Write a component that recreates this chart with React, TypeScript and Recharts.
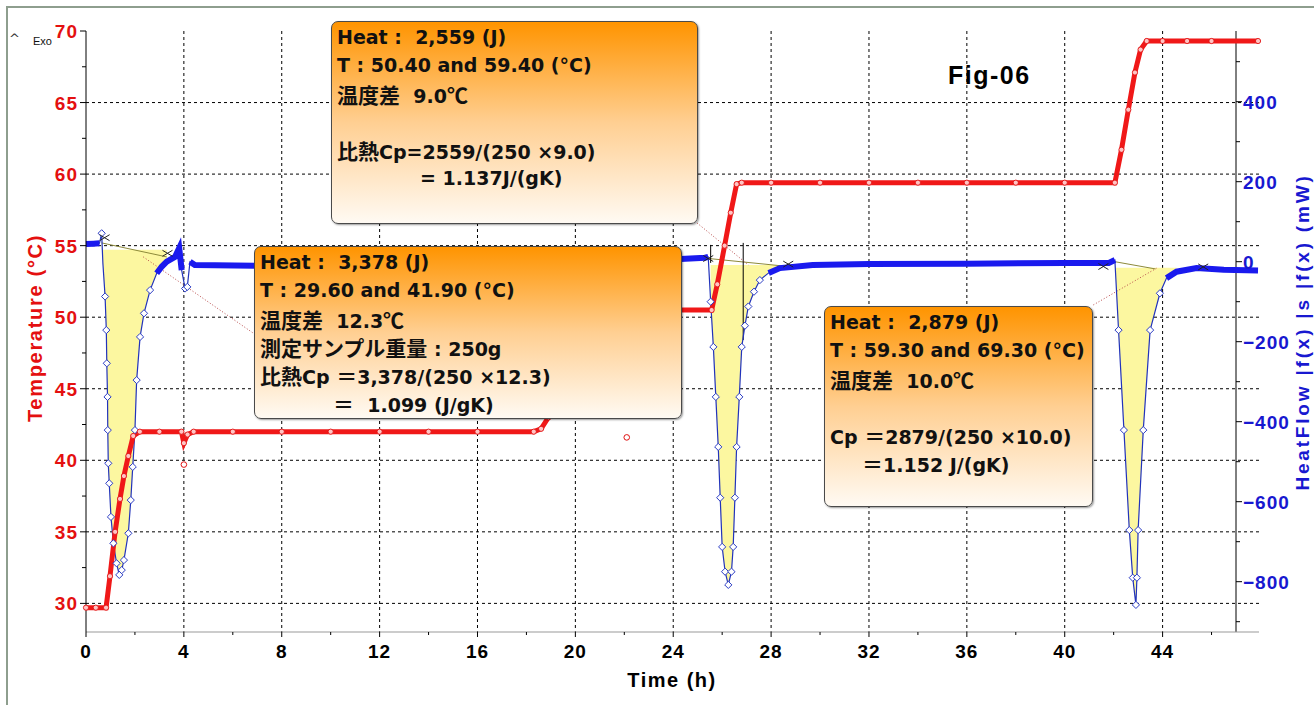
import React from "react";
import {
  ComposedChart,
  Line,
  Area,
  Scatter,
  XAxis,
  YAxis,
  CartesianGrid,
  ReferenceLine,
} from "recharts";

// sample temperature, °C (left axis)
const tempHours = [
  0, 0.4, 0.82, 0.98, 1.19, 1.39, 1.55, 1.73, 1.93, 2.2, 3.0, 3.9, 4.0, 4.15, 4.4,
  6, 8, 10, 12, 14, 16, 18.3, 18.6, 18.9, 19.2, 19.5, 19.8, 20.1, 22, 24, 25.57,
  25.8, 26.1, 26.35, 26.59, 26.8, 28, 30, 32, 34, 36, 38, 40, 42.05, 42.32, 42.6,
  42.87, 43.1, 43.35, 44, 45, 46, 47.9,
];
const tempC = [
  29.7, 29.7, 29.7, 31.9, 35.0, 37.3, 38.9, 40.3, 41.7, 42.0, 42.0, 42.0, 41.2, 41.8, 42.0,
  42.0, 42.0, 42.0, 42.0, 42.0, 42.0, 42.0, 42.2, 43.0, 45.5, 48.3, 50.2, 50.5, 50.5, 50.5, 50.5,
  52.3, 55.0, 57.3, 59.3, 59.4, 59.4, 59.4, 59.4, 59.4, 59.4, 59.4, 59.4, 59.4, 61.7, 64.5,
  67.1, 68.7, 69.3, 69.3, 69.3, 69.3, 69.3,
];

// single stray temperature readings
const strayHours = [4.0, 22.1];
const strayC = [39.7, 41.6];

// heat flow, mW (right axis)
const flowHours = [
  0, 0.3, 0.55, 0.64, 0.69, 0.78, 0.83, 0.85, 0.88, 0.89, 0.91, 0.95, 1.02, 1.12, 1.25,
  1.36, 1.46, 1.55, 1.73, 1.83, 1.91, 2.0, 2.07, 2.21, 2.37, 2.62, 2.89, 3.1, 3.3, 3.64,
  3.81, 3.91, 4.05, 4.14, 4.25, 4.45, 6.9, 15, 24.3, 25.3, 25.43, 25.53, 25.64, 25.74,
  25.84, 25.92, 26.0, 26.12, 26.25, 26.38, 26.45, 26.52, 26.59, 26.7, 26.8, 26.93, 27.07,
  27.3, 27.54, 27.9, 28.36, 29.7, 32, 36, 40, 41.8, 42.05, 42.2, 42.42, 42.64, 42.78,
  42.91, 42.95, 43.0, 43.21, 43.49, 43.89, 44.16, 44.57, 45.39, 46.5, 47.9,
];
const flowMW = [
  44, 45, 46, 71, -4, -87, -171, -254, -338, -421, -504, -554, -638, -704, -754,
  -783, -771, -746, -679, -596, -513, -421, -296, -188, -129, -71, -29, -12, 0, 12,
  34, -21, -67, -63, 0, -8, -10, -3, 7, 10, 12, -100, -213, -338,
  -463, -590, -713, -775, -808, -775, -713, -590, -463, -338, -213, -160, -112,
  -75, -46, -28, -16, -8, -6, -5, -3, -3, 4, -171, -421, -671, -790,
  -858, -790, -671, -421, -171, -79, -41, -25, -16, -20, -22,
];

// the three integrated peaks
const peakFrom = [0.64, 25.53, 42.05];
const peakTo = [3.3, 28.36, 44.57];
const peakLevel = [30, -8, -15];

// straight baselines drawn under each peak
const baseStartHours = [0.64, 25.45, 42.05];
const baseStartMW = [47, 8, 0];
const baseEndHours = [3.3, 28.7, 43.7];
const baseEndMW = [12, -12, -18];

// x marks at the integration limits
const limitHours = [0.76, 3.33, 25.43, 28.7, 41.58, 45.66];
const limitMW = [60, 21, 8, -6, -12, -13];

// two cursor lines on the middle peak
const cursorHours = [25.53, 26.86];
const cursorTopMW = [42, 47];
const cursorBottomMW = [-3, -196];

// dotted leaders from the notes to their peaks
const leaderFromHours = [24.69, 2.34, 41.17];
const leaderFromMW = [111, 12, -108];
const leaderToHours = [27.07, 7.2, 43.76];
const leaderToMW = [-8, -194, -16];

const timeTicks = [0, 2, 4, 6, 8, 10, 12, 14, 16, 18, 20, 22, 24, 26, 28, 30, 32, 34, 36, 38, 40, 42, 44, 46];
const tempTicks = [30, 32.5, 35, 37.5, 40, 42.5, 45, 47.5, 50, 52.5, 55, 57.5, 60, 62.5, 65, 67.5, 70];
const flowTicks = [-900, -800, -700, -600, -500, -400, -300, -200, -100, 0, 100, 200, 300, 400, 500];
const gridHours = [4, 8, 12, 16, 20, 24, 28, 32, 36, 40, 44];
const gridTemps = [30, 35, 40, 45, 50, 55, 60, 65];

const X_MAX = 47.94;
const RIGHT_AXIS_AT = 47;
const PLOT_W = 1173;
const AXIS_SHIFT = ((X_MAX - RIGHT_AXIS_AT) / X_MAX) * PLOT_W;

const tempRows = tempHours.map((t, i) => ({ t, v: tempC[i] }));
const strayRows = strayHours.map((t, i) => ({ t, v: strayC[i] }));
const flowRows = flowHours.map((t, i) => ({ t, v: flowMW[i] }));
const limitRows = limitHours.map((t, i) => ({ t, v: limitMW[i] }));

// near the baseline the sampled points pile up into a solid band
const inBand = (v: number) => v > -45 && v < 60;

const tickFont: React.CSSProperties = {
  fontFamily: '"Liberation Sans", Arial, sans-serif',
  fontWeight: 700,
  fontSize: 19,
  letterSpacing: 1,
};

function TempTick(props: any) {
  const { x, y, payload } = props;
  const v = payload.value;
  const major = v % 5 === 0;
  return (
    <g>
      <line x1={x - (major ? 6 : 4)} y1={y} x2={x} y2={y} stroke="#000" />
      {major && (
        <text x={x - 8} y={y + 7} textAnchor="end" fill="#e41010" style={tickFont}>
          {v}
        </text>
      )}
    </g>
  );
}

function FlowTick(props: any) {
  const { x, y, payload } = props;
  const v = payload.value;
  const ax = x - AXIS_SHIFT;
  const major = v % 200 === 0;
  return (
    <g>
      <line x1={ax} y1={y} x2={ax + (major ? 6 : 4)} y2={y} stroke="#000" />
      {major && (
        <text x={ax + 7} y={y + 7} textAnchor="start" fill="#1818d0" style={tickFont}>
          {v < 0 ? "\u2212" + -v : v}
        </text>
      )}
    </g>
  );
}

function TimeTick(props: any) {
  const { x, y, payload } = props;
  const v = payload.value;
  const major = v % 4 === 0;
  return (
    <g>
      <line x1={x} y1={y} x2={x} y2={y + (major ? 5 : 3)} stroke="#000" />
      {major && (
        <text x={x} y={y + 26} textAnchor="middle" fill="#000" style={tickFont}>
          {v}
        </text>
      )}
    </g>
  );
}

function diamondDot(p: any) {
  const { cx, cy, value, index } = p;
  if (value == null || inBand(value) || cx == null) return <g key={`d${index}`} />;
  const r = 3.6;
  return (
    <path
      key={`d${index}`}
      d={`M${cx},${cy - r}L${cx + r},${cy}L${cx},${cy + r}L${cx - r},${cy}Z`}
      fill="#fff"
      stroke="#2b3cc4"
      strokeWidth={1}
    />
  );
}

function ringDot(p: any) {
  const { cx, cy, index } = p;
  if (cx == null) return <g key={`r${index}`} />;
  return <circle key={`r${index}`} cx={cx} cy={cy} r={2.6} fill="#ffc4c4" stroke="#e01010" strokeWidth={0.9} />;
}

function strayDot(p: any) {
  return <circle cx={p.cx} cy={p.cy} r={2.8} fill="#fff" stroke="#e01010" strokeWidth={1} />;
}

function crossMark(p: any) {
  const s = 5;
  return (
    <path
      d={`M${p.cx - s},${p.cy - s * 0.6}L${p.cx + s},${p.cy + s * 0.6}M${p.cx - s},${p.cy + s * 0.6}L${p.cx + s},${p.cy - s * 0.6}`}
      stroke="#222"
      strokeWidth={1}
      fill="none"
    />
  );
}

// Japanese runs get a slightly larger face, like the instrument software
function Jp({ text }: { text: string }) {
  const parts = text.split(/([\u2100-\u214f\u3000-\u9fff\uff00-\uffef]+)/);
  return (
    <>
      {parts.map((p, i) =>
        i % 2 ? (
          <span key={i} style={{ fontFamily: '"Noto Sans CJK JP", sans-serif', fontSize: 21 }}>
            {p}
          </span>
        ) : (
          <React.Fragment key={i}>{p}</React.Fragment>
        )
      )}
    </>
  );
}

type NoteLine = { text: string; indent?: number };

function Note({ left, top, width, height, lines }: { left: number; top: number; width: number; height: number; lines: NoteLine[] }) {
  return (
    <div
      style={{
        position: "absolute",
        left,
        top,
        width,
        height,
        boxSizing: "border-box",
        border: "1px solid #4a4a4a",
        borderRadius: 7,
        background: "linear-gradient(#ff9400, #ffcf92 50%, #fffaf3)",
        boxShadow: "1px 1px 2px rgba(0,0,0,0.4)",
        padding: "1px 0 0 5px",
        fontFamily: '"DejaVu Sans", "Noto Sans CJK JP", sans-serif',
        fontWeight: 700,
        fontSize: 19,
        lineHeight: "28.3px",
        color: "#111",
        whiteSpace: "pre",
      }}
    >
      {lines.map((l, i) => (
        <div key={i} style={{ height: 28.3, paddingLeft: l.indent || 0 }}>
          <Jp text={l.text} />
        </div>
      ))}
    </div>
  );
}

const titleFont: React.CSSProperties = {
  position: "absolute",
  fontFamily: '"Liberation Sans", Arial, sans-serif',
  fontWeight: 700,
  fontSize: 20,
  lineHeight: 1,
  whiteSpace: "nowrap",
};

export default function App() {
  return (
    <div style={{ position: "absolute", left: 0, top: 0, width: 1314, height: 705, background: "#fff", overflow: "hidden" }}>
      <div
        style={{
          position: "absolute",
          left: 6,
          top: 6,
          right: -10,
          bottom: -10,
          borderTop: "2px solid #8e9e8e",
          borderLeft: "2px solid #8e9e8e",
        }}
      />
      <ComposedChart
        width={1314}
        height={705}
        margin={{ top: 31, right: 0, bottom: 43, left: 26 }}
        style={{ position: "absolute", left: 0, top: 0 }}
      >
        <CartesianGrid
          yAxisId="temp"
          horizontalValues={gridTemps}
          verticalValues={gridHours}
          stroke="#000"
          strokeDasharray="3 3"
        />
        <XAxis
          dataKey="t"
          type="number"
          domain={[0, X_MAX]}
          ticks={timeTicks}
          interval={0}
          height={30}
          tickSize={0}
          tickMargin={0}
          tickLine={false}
          tick={<TimeTick />}
          axisLine={{ stroke: "#999" }}
        />
        <YAxis
          yAxisId="temp"
          orientation="left"
          type="number"
          domain={[28, 70]}
          ticks={tempTicks}
          interval={0}
          width={60}
          tickSize={0}
          tickMargin={0}
          tickLine={false}
          tick={<TempTick />}
          axisLine={{ stroke: "#000" }}
        />
        <YAxis
          yAxisId="hf"
          orientation="right"
          type="number"
          domain={[-925.75, 576.75]}
          ticks={flowTicks}
          interval={0}
          width={55}
          tickSize={0}
          tickMargin={0}
          tickLine={false}
          tick={<FlowTick />}
          axisLine={false}
        />
        <ReferenceLine yAxisId="temp" x={RIGHT_AXIS_AT} stroke="#000" strokeWidth={1} />

        {peakFrom.map((from, i) => (
          <Area
            key={`fill${i}`}
            yAxisId="hf"
            data={flowRows.filter((r) => r.t >= from && r.t <= peakTo[i])}
            dataKey="v"
            type="linear"
            baseValue={peakLevel[i]}
            fill="#fcf7a0"
            fillOpacity={1}
            stroke="none"
            dot={false}
            activeDot={false}
            isAnimationActive={false}
          />
        ))}
        {baseStartHours.map((t, i) => (
          <ReferenceLine
            key={`base${i}`}
            yAxisId="hf"
            segment={[
              { x: t, y: baseStartMW[i] },
              { x: baseEndHours[i], y: baseEndMW[i] },
            ]}
            stroke="#8d8a3a"
            strokeWidth={1}
          />
        ))}
        {cursorHours.map((t, i) => (
          <ReferenceLine
            key={`cur${i}`}
            yAxisId="hf"
            segment={[
              { x: t, y: cursorTopMW[i] },
              { x: t, y: cursorBottomMW[i] },
            ]}
            stroke="#000"
            strokeWidth={1}
          />
        ))}
        {leaderFromHours.map((t, i) => (
          <ReferenceLine
            key={`lead${i}`}
            yAxisId="hf"
            segment={[
              { x: t, y: leaderFromMW[i] },
              { x: leaderToHours[i], y: leaderToMW[i] },
            ]}
            stroke="#b84a4a"
            strokeWidth={1}
            strokeDasharray="1 2"
          />
        ))}

        <Line
          yAxisId="hf"
          data={flowRows}
          dataKey="v"
          type="linear"
          stroke="#2233bb"
          strokeWidth={1.2}
          dot={diamondDot}
          activeDot={false}
          isAnimationActive={false}
        />
        <Line
          yAxisId="hf"
          data={flowRows}
          dataKey={(d: any) => (inBand(d.v) ? d.v : null)}
          type="linear"
          stroke="#1a1aee"
          strokeWidth={6}
          dot={false}
          activeDot={false}
          isAnimationActive={false}
        />
        <Scatter
          yAxisId="hf"
          data={limitRows}
          dataKey="v"
          shape={crossMark}
          isAnimationActive={false}
        />
        <Line
          yAxisId="temp"
          data={tempRows}
          dataKey="v"
          type="linear"
          stroke="#f01818"
          strokeWidth={5}
          dot={ringDot}
          activeDot={false}
          isAnimationActive={false}
        />
        <Scatter
          yAxisId="temp"
          data={strayRows}
          dataKey="v"
          shape={strayDot}
          isAnimationActive={false}
        />
      </ComposedChart>

      <div style={{ position: "absolute", left: 9, top: 31, fontFamily: '"DejaVu Sans", sans-serif', fontSize: 13, color: "#333" }}>^</div>
      <div style={{ position: "absolute", left: 33, top: 35, fontFamily: '"Liberation Sans", Arial, sans-serif', fontSize: 11, color: "#111" }}>Exo</div>

      <div style={{ ...titleFont, left: 35, top: 328, color: "#e41010", letterSpacing: 1.7, transform: "translate(-50%, -50%) rotate(-90deg)" }}>
        Temperature (°C)
      </div>
      <div style={{ ...titleFont, left: 1302, top: 332, fontSize: 19, color: "#1818d0", letterSpacing: 2.8, transform: "translate(-50%, -50%) rotate(-90deg)" }}>
        HeatFlow |f(x) |s |f(x) (mW)
      </div>
      <div style={{ ...titleFont, left: 672, top: 680, color: "#000", letterSpacing: 1.5, transform: "translate(-50%, -50%)" }}>
        Time (h)
      </div>
      <div style={{ ...titleFont, left: 948, top: 63, fontSize: 25, letterSpacing: 1.5, color: "#000" }}>Fig-06</div>

      <Note
        left={331}
        top={21}
        width={367}
        height={203}
        lines={[
          { text: "Heat :  2,559 (J)" },
          { text: "T : 50.40 and 59.40 (°C)" },
          { text: "温度差  9.0℃" },
          { text: "" },
          { text: "比熱Cp=2559/(250 ×9.0)" },
          { text: "= 1.137J/(gK)", indent: 83 },
        ]}
      />
      <Note
        left={254}
        top={246}
        width={428}
        height={173}
        lines={[
          { text: "Heat :  3,378 (J)" },
          { text: "T : 29.60 and 41.90 (°C)" },
          { text: "温度差  12.3℃" },
          { text: "測定サンプル重量 : 250g" },
          { text: "比熱Cp ＝3,378/(250 ×12.3)" },
          { text: "＝  1.099 (J/gK)", indent: 73 },
        ]}
      />
      <Note
        left={824}
        top={306}
        width={269}
        height={201}
        lines={[
          { text: "Heat :  2,879 (J)" },
          { text: "T : 59.30 and 69.30 (°C)" },
          { text: "温度差  10.0℃" },
          { text: "" },
          { text: "Cp ＝2879/(250 ×10.0)" },
          { text: "＝1.152 J/(gK)", indent: 32 },
        ]}
      />
    </div>
  );
}
